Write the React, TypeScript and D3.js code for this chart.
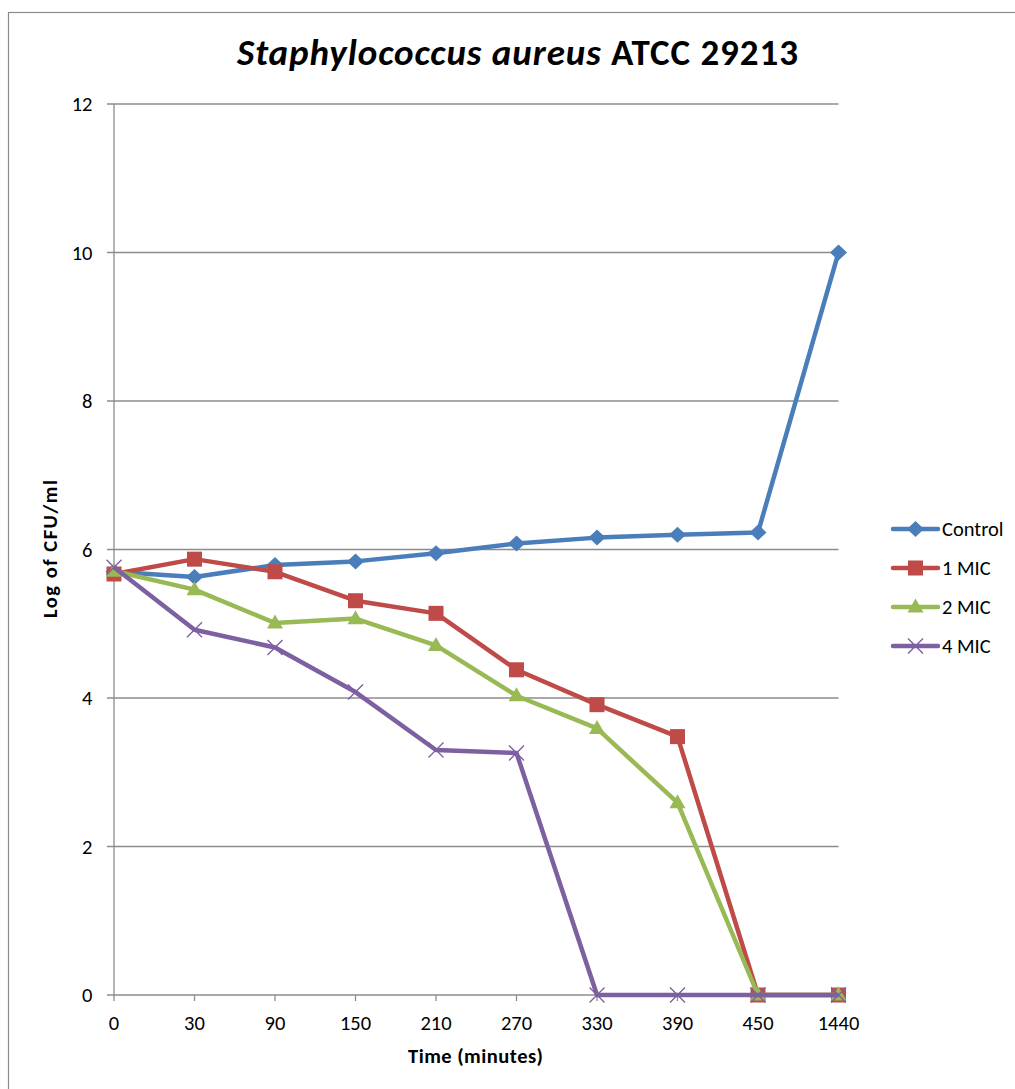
import React from "react";
import * as d3 from "d3";

// Time-kill data: log CFU/ml per sampling time
const timePoints = ["0", "30", "90", "150", "210", "270", "330", "390", "450", "1440"];
const controlValues = [5.7, 5.63, 5.79, 5.84, 5.95, 6.08, 6.16, 6.2, 6.23, 10.0];
const mic1Values = [5.67, 5.87, 5.7, 5.31, 5.14, 4.38, 3.91, 3.48, 0, 0];
const mic2Values = [5.71, 5.46, 5.01, 5.07, 4.71, 4.03, 3.59, 2.59, 0, 0];
const mic4Values = [5.76, 4.92, 4.68, 4.08, 3.3, 3.26, 0, 0, 0, 0];
const yTicks = [0, 2, 4, 6, 8, 10, 12];

type Marker = "diamond" | "square" | "triangle" | "x";
const seriesList: { name: string; values: number[]; color: string; marker: Marker }[] = [
  { name: "Control", values: controlValues, color: "#4a7ebb", marker: "diamond" },
  { name: "1 MIC", values: mic1Values, color: "#be4b48", marker: "square" },
  { name: "2 MIC", values: mic2Values, color: "#98b954", marker: "triangle" },
  { name: "4 MIC", values: mic4Values, color: "#7d60a0", marker: "x" },
];

const FONT = "Carlito, Calibri, Lato, 'Open Sans', sans-serif";
const W = 1015;
const H = 1089;
const plot = { left: 114, right: 838.5, top: 104, bottom: 995 };

function MarkerShape({ kind, x, y, color }: { kind: Marker; x: number; y: number; color: string }) {
  if (kind === "diamond") {
    const rx = 8.5;
    const ry = 8;
    return <path d={`M${x},${y - ry}L${x + rx},${y}L${x},${y + ry}L${x - rx},${y}Z`} fill={color} />;
  }
  if (kind === "square") {
    const s = 15;
    return <rect x={x - s / 2} y={y - s / 2} width={s} height={s} fill={color} />;
  }
  if (kind === "triangle") {
    const s = 16;
    const h = 14;
    return (
      <path
        d={`M${x},${y - h * 0.6}L${x + s / 2},${y + h * 0.4}L${x - s / 2},${y + h * 0.4}Z`}
        fill={color}
      />
    );
  }
  const r = 7.5;
  return (
    <path
      d={`M${x - r},${y - r}L${x + r},${y + r}M${x - r},${y + r}L${x + r},${y - r}`}
      stroke={color}
      strokeWidth={1.4}
      fill="none"
    />
  );
}

export default function App() {
  const x = d3.scalePoint<string>().domain(timePoints).range([plot.left, plot.right]);
  const y = d3.scaleLinear().domain([0, 12]).range([plot.bottom, plot.top]);
  const line = d3
    .line<number>()
    .x((_, i) => x(timePoints[i]) as number)
    .y((v) => y(v));

  const legendX = 893;
  const legendRows = [529, 568, 607, 646];

  return (
    <svg
      width={W}
      height={H}
      style={{ position: "absolute", left: 0, top: 0, background: "#fff" }}
      fontFamily={FONT}
    >
      <rect x={0} y={0} width={W} height={H} fill="#fff" />
      <rect x={8.5} y={12.5} width={W + 20} height={H + 20} fill="none" stroke="#8c8c8c" strokeWidth={1.2} />

      {/* title */}
      <text
        x={237}
        y={65}
        fontSize={37}
        fontWeight="bold"
        fill="#000"
        textLength={561}
        lengthAdjust="spacing"
      >
        <tspan fontStyle="italic">Staphylococcus aureus</tspan>
        <tspan> ATCC 29213</tspan>
      </text>

      {/* horizontal gridlines and y ticks */}
      {yTicks.map((t) => (
        <g key={t}>
          <line x1={plot.left - 7} x2={plot.right} y1={y(t)} y2={y(t)} stroke="#8c8c8c" strokeWidth={1.3} />
          <text x={92.5} y={y(t)} dy="0.35em" textAnchor="end" fontSize={20.5} fill="#000">
            {t}
          </text>
        </g>
      ))}

      {/* y axis */}
      <line x1={plot.left} x2={plot.left} y1={plot.top} y2={plot.bottom} stroke="#8c8c8c" strokeWidth={1.3} />

      {/* x ticks and labels */}
      {timePoints.map((c) => (
        <g key={c}>
          <line x1={x(c)} x2={x(c)} y1={plot.bottom} y2={plot.bottom + 6} stroke="#8c8c8c" strokeWidth={1.3} />
          <text x={x(c)} y={1023} dy="0.35em" textAnchor="middle" fontSize={20.5} fill="#000">
            {c}
          </text>
        </g>
      ))}

      {/* axis titles */}
      <text
        x={408}
        y={1063}
        fontSize={20.5}
        fontWeight="bold"
        fill="#000"
        textLength={135}
        lengthAdjust="spacing"
      >
        Time (minutes)
      </text>
      <text
        transform={`translate(57,618) rotate(-90)`}
        fontSize={20.5}
        fontWeight="bold"
        fill="#000"
        textLength={138}
        lengthAdjust="spacing"
      >
        Log of CFU/ml
      </text>

      {/* series */}
      {seriesList.map((s) => (
        <g key={s.name}>
          <path d={line(s.values) || ""} fill="none" stroke={s.color} strokeWidth={4.5} strokeLinejoin="round" />
          {s.values.map((v, i) => (
            <MarkerShape key={i} kind={s.marker} x={x(timePoints[i]) as number} y={y(v)} color={s.color} />
          ))}
        </g>
      ))}

      {/* legend */}
      {seriesList.map((s, i) => (
        <g key={s.name}>
          <line x1={legendX} x2={legendX + 45} y1={legendRows[i]} y2={legendRows[i]} stroke={s.color} strokeWidth={4.5} strokeLinecap="round" />
          <MarkerShape kind={s.marker} x={legendX + 22.5} y={legendRows[i]} color={s.color} />
          <text x={legendX + 49} y={legendRows[i]} dy="0.35em" fontSize={20.5} fill="#000">
            {s.name}
          </text>
        </g>
      ))}
    </svg>
  );
}
